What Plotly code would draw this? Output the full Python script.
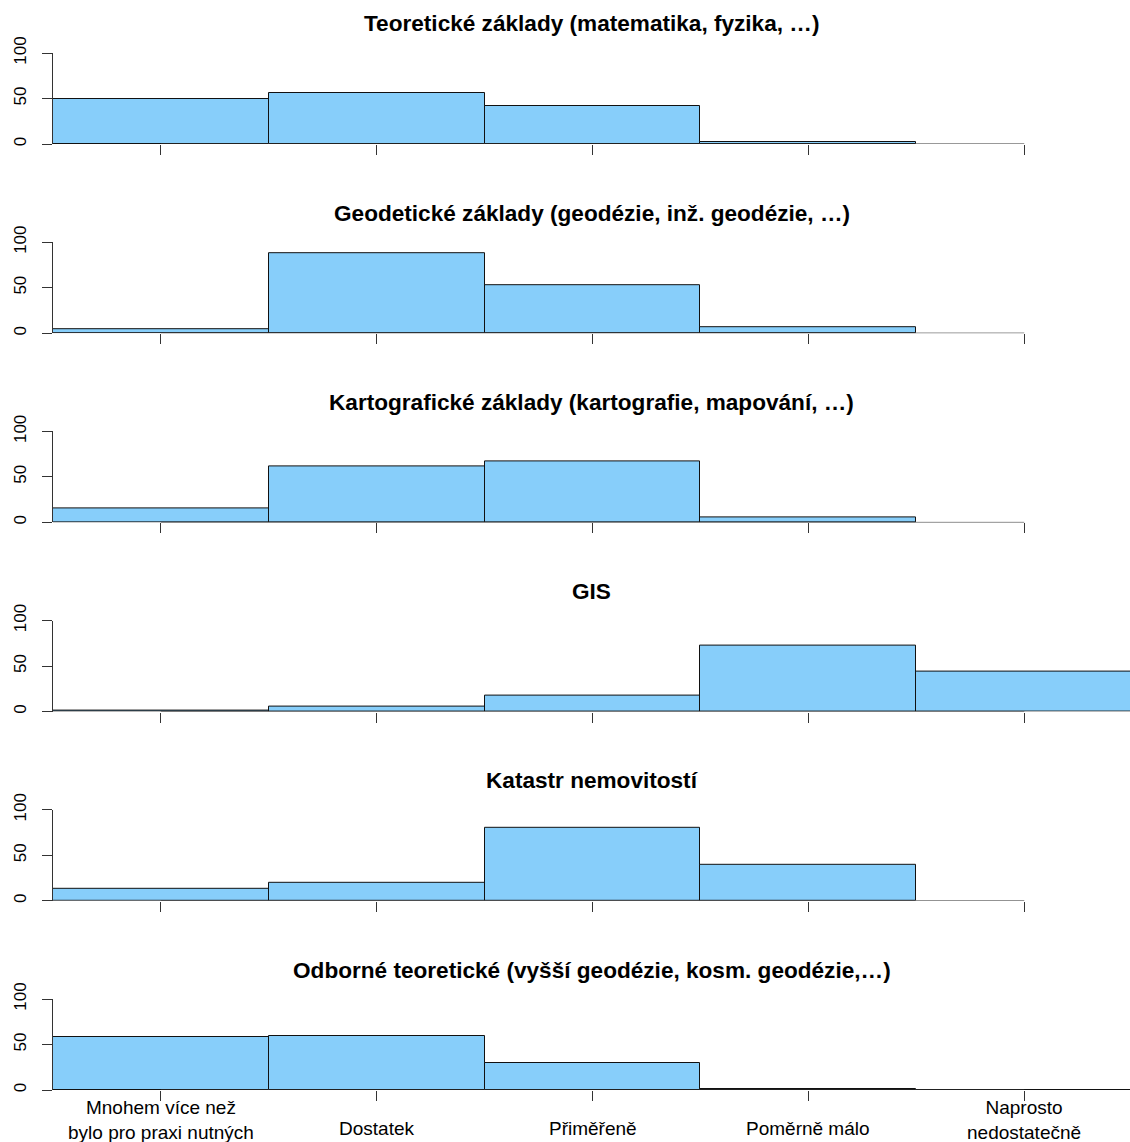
import plotly.graph_objects as go

categories = ["Mnohem více než<br>bylo pro praxi nutných", "Dostatek", "Přiměřeně",
              "Poměrně málo", "Naprosto<br>nedostatečně"]
titles = [
    "Teoretické základy (matematika, fyzika, …)",
    "Geodetické základy (geodézie, inž. geodézie, …)",
    "Kartografické základy (kartografie, mapování, …)",
    "GIS",
    "Katastr nemovitostí",
    "Odborné teoretické (vyšší geodézie, kosm. geodézie,…)",
]
teoreticke = [49, 56, 42, 2, 0]
geodeticke = [4, 88, 53, 7, 0]
kartograficke = [15, 61, 67, 5, 0]
gis = [1, 6, 18, 73, 44]
katastr = [13, 20, 80, 40, 0]
odborne = [58, 59, 30, 1, 0.5]
series = [teoreticke, geodeticke, kartograficke, gis, katastr, odborne]
y_ticks = [0, 50, 100]

H = 1142
W = 1130
FONT = "Liberation Sans, Arial, sans-serif"

fig = go.Figure()
annotations = []
shapes = []
layout = {}
for k, vals in enumerate(series):
    idx = "" if k == 0 else str(k + 1)
    zero_px = 144 + 189.2 * k
    top_px = zero_px - 91
    xa = "x" + idx
    ya = "y" + idx
    fig.add_trace(go.Bar(
        x=list(range(len(vals))), y=vals, width=1,
        marker=dict(color="#87CEFA",
                    line=dict(color="#111111",
                              width=[0 if v == 0 else 1 for v in vals])),
        xaxis=xa, yaxis=ya, showlegend=False, hoverinfo="y",
    ))
    layout["xaxis" + idx] = dict(
        domain=[0, 1], range=[-0.5, 4.49], anchor=ya, automargin=False,
        tickvals=list(range(5)), ticks="outside", ticklen=10, tickcolor="#333",
        showticklabels=False, showline=False, showgrid=False, zeroline=False,
    )
    layout["yaxis" + idx] = dict(
        domain=[1 - zero_px / H, 1 - top_px / H], range=[0, 100], anchor=xa,
        automargin=False,
        tickvals=y_ticks, ticktext=[str(v) for v in y_ticks],
        ticks="outside", ticklen=10, tickcolor="#333", tickangle=-90,
        tickfont=dict(size=17, family=FONT, color="#000"),
        ticklabelstandoff=9,
        showline=True, linecolor="#333", linewidth=1,
        showgrid=False, zeroline=False,
    )
    shapes.append(dict(type="line", xref=xa, yref=ya, x0=0, x1=4, y0=0, y1=0,
                       line=dict(color="#333", width=1)))
    annotations.append(dict(
        text="<b>" + titles[k] + "</b>", xref="paper", yref="paper",
        x=0.5, y=1 - (zero_px - 120) / H, xanchor="center", yanchor="middle",
        showarrow=False, font=dict(size=22.6, family=FONT, color="#000"),
    ))

last = "x6"
for i, c in enumerate(categories):
    two = "<br>" in c
    ypx = 1120 if two else 1128
    annotations.append(dict(
        text=c, xref=last, yref="paper", x=i, y=1 - ypx / H,
        xanchor="center", yanchor="middle", showarrow=False,
        font=dict(size=19, family=FONT, color="#000"),
    ))

fig.update_layout(
    template="none",
    width=W, height=H, margin=dict(l=53, r=0, t=0, b=0, pad=0),
    paper_bgcolor="white", plot_bgcolor="white", bargap=0,
    annotations=annotations, shapes=shapes,
    font=dict(family=FONT), **layout,
)
fig.write_html("out.html", config={"displayModeBar": False},
               post_script="document.body.style.margin='0';document.body.style.overflow='hidden';")
